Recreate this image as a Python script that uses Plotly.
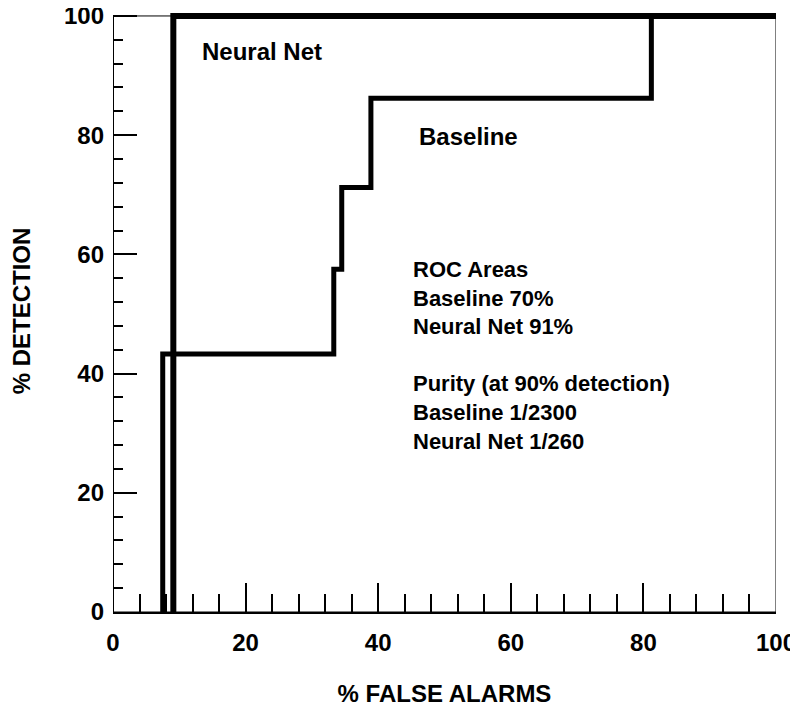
import plotly.graph_objects as go

# ---- data ----
nn_x = [9.1, 9.1, 100]
nn_y = [0, 100, 100]
base_x = [7.5, 7.5, 33.3, 33.3, 34.5, 34.5, 38.9, 38.9, 81.2, 81.2, 100]
base_y = [0, 43.3, 43.3, 57.5, 57.5, 71.2, 71.2, 86.2, 86.2, 100, 100]
x_ticks = [0, 20, 40, 60, 80, 100]
y_ticks = [0, 20, 40, 60, 80, 100]
x_title = "% FALSE ALARMS"
y_title = "% DETECTION"
label_nn = "Neural Net"
label_base = "Baseline"
info_lines = ["ROC Areas", "Baseline 70%", "Neural Net 91%", " ",
              "Purity (at 90% detection)", "Baseline 1/2300", "Neural Net 1/260"]

FONT = "Liberation Sans, Arial, sans-serif"
X_MIN, X_MAX = 0, 100
Y_MIN, Y_MAX = 0, 100

fig = go.Figure()
fig.add_trace(go.Scatter(x=nn_x, y=nn_y, mode="lines",
                         line=dict(color="black", width=6), showlegend=False))
fig.add_trace(go.Scatter(x=base_x, y=base_y, mode="lines",
                         line=dict(color="black", width=5), showlegend=False))

# frame
fig.add_shape(type="rect", xref="x", yref="y", x0=X_MIN, x1=X_MAX, y0=Y_MIN, y1=Y_MAX,
              line=dict(color="black", width=1), layer="below")
fig.add_shape(type="line", xref="x", yref="y", x0=X_MIN, x1=X_MIN, y0=Y_MIN, y1=Y_MAX,
              line=dict(color="black", width=2), layer="below")

fig.add_annotation(x=13.1, y=94, xref="x", yref="y", text=label_nn, showarrow=False,
                   xanchor="left", yanchor="middle",
                   font=dict(family=FONT, size=24, color="black", weight="bold"))
fig.add_annotation(x=45.9, y=79.7, xref="x", yref="y", text=label_base, showarrow=False,
                   xanchor="left", yanchor="middle",
                   font=dict(family=FONT, size=24, color="black", weight="bold"))
fig.add_annotation(x=45.0, y=43.1, xref="x", yref="y", text="<br>".join(info_lines),
                   showarrow=False, xanchor="left", yanchor="middle", align="left",
                   font=dict(family=FONT, size=22, color="black", weight="bold"))

fig.update_layout(
    width=790, height=703,
    margin=dict(l=105, r=22, t=2, b=99, autoexpand=False),
    paper_bgcolor="white", plot_bgcolor="white",
    font=dict(family=FONT, color="black"),
    xaxis=dict(range=[X_MIN, X_MAX], tickvals=x_ticks, ticks="inside", ticklen=29,
               tickwidth=2, tickcolor="black", showline=True, linecolor="black",
               linewidth=2, showgrid=False, zeroline=False, automargin=False,
               tickfont=dict(family=FONT, size=24, color="black", weight="bold"),
               ticklabelstandoff=8, ticklabeloverflow="allow",
               minor=dict(dtick=4, tick0=0, ticks="inside", ticklen=18, tickwidth=2,
                          tickcolor="black", showgrid=False),
               title=dict(text=x_title, standoff=30,
                          font=dict(family=FONT, size=24, color="black", weight="bold"))),
    yaxis=dict(range=[Y_MIN, Y_MAX + 1], tickvals=y_ticks, ticks="inside", ticklen=24,
               tickwidth=2, tickcolor="black", showline=False, showgrid=False,
               zeroline=False, automargin=False,
               tickfont=dict(family=FONT, size=24, color="black", weight="bold"),
               ticklabelstandoff=8, ticklabeloverflow="allow",
               minor=dict(dtick=4, tick0=0, ticks="inside", ticklen=10, tickwidth=2,
                          tickcolor="black", showgrid=False),
               title=dict(text=y_title, standoff=39,
                          font=dict(family=FONT, size=24, color="black", weight="bold"))),
)

fig.write_html("out.html")
